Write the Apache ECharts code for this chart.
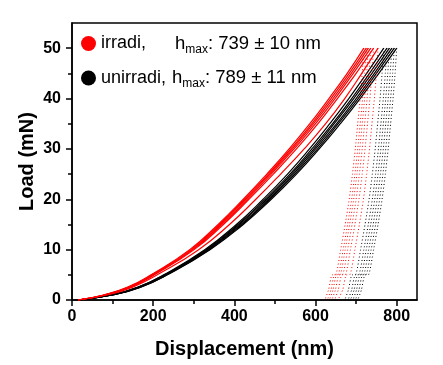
<!DOCTYPE html>
<html><head><meta charset="utf-8">
<script src="https://cdn.jsdelivr.net/npm/echarts@6/dist/echarts.min.js"></script>
<style>html,body{margin:0;padding:0;background:#fff}#c{width:443px;height:365px}</style>
</head><body><div id="c"></div>
<script>
const xTicks = [0, 200, 400, 600, 800];
const xMinorTicks = [100, 300, 500, 700];
const yTicks = [0, 10, 20, 30, 40, 50];
const yMinorTicks = [5, 15, 25, 35, 45];

const loadingLoads = [0, 1, 2.5, 5, 10, 15, 20, 25, 30, 35, 40, 45, 50];
const unloadingLoads = [50, 45, 40, 35, 30, 25, 20, 15, 10, 5, 5, 2, 0];

const irradiLoadingH = [
  [15, 78, 136, 195, 290, 360, 422, 480, 535, 586, 633, 678, 719],
  [15, 79, 138, 197, 293, 363, 425, 484, 539, 591, 638, 683, 725],
  [15, 80, 140, 199, 296, 366, 428, 487, 543, 595, 643, 688, 730],
  [15, 81, 141, 201, 298, 369, 432, 491, 547, 600, 648, 693, 736],
  [15, 82, 143, 203, 301, 373, 436, 496, 553, 606, 654, 700, 743],
  [15, 85, 148, 210, 312, 388, 453, 514, 572, 625, 672, 714, 754]
];
const irradiUnloadingH = [
  [719, 715, 710, 704, 698, 691, 683, 673, 662, 649, 641, 632, 623],
  [725, 721, 716, 710, 704, 697, 689, 679, 668, 655, 647, 638, 629],
  [730, 726, 721, 715, 709, 702, 694, 684, 673, 660, 652, 643, 634],
  [736, 732, 727, 721, 715, 708, 700, 690, 679, 666, 658, 649, 640],
  [743, 739, 734, 728, 722, 715, 707, 697, 686, 673, 665, 656, 647],
  [754, 750, 745, 739, 733, 726, 718, 708, 697, 684, 676, 667, 655]
];
const unirradiLoadingH = [
  [15, 96, 161, 226, 327, 405, 471, 531, 585, 635, 682, 726, 768],
  [15, 97, 162, 228, 330, 409, 476, 537, 591, 642, 689, 733, 776],
  [15, 98, 164, 230, 333, 412, 480, 541, 596, 646, 694, 739, 782],
  [15, 98, 165, 232, 335, 416, 484, 545, 600, 652, 700, 745, 788],
  [15, 99, 167, 234, 338, 419, 487, 549, 605, 656, 705, 750, 794],
  [15, 100, 168, 235, 340, 422, 491, 553, 609, 661, 710, 756, 800]
];
const unirradiUnloadingH = [
  [768, 764, 759, 753, 747, 740, 732, 722, 711, 698, 690, 681, 672],
  [776, 772, 767, 761, 755, 748, 740, 730, 719, 706, 698, 689, 680],
  [782, 778, 773, 767, 761, 754, 746, 736, 725, 712, 704, 695, 686],
  [788, 784, 779, 773, 767, 760, 752, 742, 731, 718, 710, 701, 692],
  [794, 790, 785, 779, 773, 766, 758, 748, 737, 724, 716, 707, 698],
  [800, 796, 791, 785, 779, 772, 764, 754, 743, 730, 722, 713, 704]
];

const legendNames = ['irradi', 'unirradi'];
const legendHmax = ['739 ± 10 nm', '789 ± 11 nm'];
const groupColors = ['#ff0000', '#000000'];

const FONT = '"Liberation Sans", Arial, sans-serif';

function makeSeries(name, color, loadH, unloadH) {
  const out = [];
  loadH.forEach((h) => {
    out.push({
      name, type: 'line', xAxisIndex: 0, yAxisIndex: 0,
      data: loadingLoads.map((p, i) => [h[i], p]),
      showSymbol: false, symbol: 'none', smooth: 0.5,
      lineStyle: { color, width: 1.2, type: 'solid' },
      itemStyle: { color },
      emphasis: { disabled: true }, silent: true
    });
  });
  unloadH.forEach((h) => {
    out.push({
      name, type: 'line', xAxisIndex: 0, yAxisIndex: 0,
      data: unloadingLoads.map((p, i) => [h[i], p]),
      showSymbol: false, symbol: 'none', smooth: 0.2,
      lineStyle: { color, width: 1, type: [1, 2.5] },
      itemStyle: { color },
      emphasis: { disabled: true }, silent: true
    });
  });
  return out;
}

const series = [].concat(
  makeSeries(legendNames[1], groupColors[1], unirradiLoadingH, unirradiUnloadingH),
  makeSeries(legendNames[0], groupColors[0], irradiLoadingH, irradiUnloadingH)
);

const chart = echarts.init(document.getElementById('c'), null, { renderer: 'canvas' });
chart.setOption({
  animation: false,
  backgroundColor: '#fff',
  grid: { left: 72, right: 26, top: 23, bottom: 65, show: true, borderColor: '#000', borderWidth: 1.5, backgroundColor: 'transparent' },
  legend: {
    data: legendNames,
    orient: 'vertical', left: 81, top: 34, padding: 0,
    itemWidth: 15, itemHeight: 15, itemGap: 13, icon: 'circle',
    itemStyle: { borderWidth: 0 },
    selectedMode: false,
    formatter: (name) => {
      const i = legendNames.indexOf(name);
      return '{n' + i + '|' + name + ',}{h|h}{s|max}{v|: ' + legendHmax[i] + '}';
    },
    textStyle: {
      fontFamily: FONT, fontSize: 18, color: '#000',
      rich: {
        n0: { width: 74, fontSize: 18, lineHeight: 24, fontFamily: FONT, color: '#000' },
        n1: { width: 71, fontSize: 18, lineHeight: 24, fontFamily: FONT, color: '#000' },
        h: { fontSize: 18.5, lineHeight: 24, fontFamily: FONT, color: '#000' },
        s: { fontSize: 12, lineHeight: 12, verticalAlign: 'bottom', fontFamily: FONT, color: '#000' },
        v: { fontSize: 18.5, lineHeight: 24, fontFamily: FONT, color: '#000' }
      }
    }
  },
  xAxis: [
    {
      type: 'value', min: 0, max: 850, position: 'bottom',
      name: 'Displacement (nm)', nameLocation: 'middle', nameGap: 39, nameMoveOverlap: false,
      nameTextStyle: { fontFamily: FONT, fontSize: 20, fontWeight: 'bold', color: '#000' },
      axisLine: { show: true, lineStyle: { color: '#000', width: 1.5 } },
      axisTick: { show: true, inside: false, length: 6, lineStyle: { color: '#000', width: 1.5 }, customValues: xTicks },
      axisLabel: { show: true, margin: 9, fontFamily: FONT, fontSize: 16, fontWeight: 'bold', color: '#000', customValues: xTicks },
      splitLine: { show: false }, minorTick: { show: false }
    },
    {
      type: 'value', min: 0, max: 850, position: 'bottom', offset: 0,
      axisLine: { show: false },
      axisTick: { show: true, inside: false, length: 4, lineStyle: { color: '#000', width: 1.5 }, customValues: xMinorTicks },
      axisLabel: { show: false, customValues: xMinorTicks },
      splitLine: { show: false }
    }
  ],
  yAxis: [
    {
      type: 'value', min: 0, max: 55, position: 'left',
      name: 'Load (mN)', nameLocation: 'middle', nameGap: 35, nameMoveOverlap: false,
      nameTextStyle: { fontFamily: FONT, fontSize: 20, fontWeight: 'bold', color: '#000' },
      axisLine: { show: true, lineStyle: { color: '#000', width: 1.5 } },
      axisTick: { show: true, inside: false, length: 6, lineStyle: { color: '#000', width: 1.5 }, customValues: yTicks },
      axisLabel: { show: true, margin: 11, fontFamily: FONT, fontSize: 16, fontWeight: 'bold', color: '#000', customValues: yTicks },
      splitLine: { show: false }, minorTick: { show: false }
    },
    {
      type: 'value', min: 0, max: 55, position: 'left', offset: 0,
      axisLine: { show: false },
      axisTick: { show: true, inside: false, length: 4, lineStyle: { color: '#000', width: 1.5 }, customValues: yMinorTicks },
      axisLabel: { show: false, customValues: yMinorTicks },
      splitLine: { show: false }
    }
  ],
  series
});
</script>
</body></html>
